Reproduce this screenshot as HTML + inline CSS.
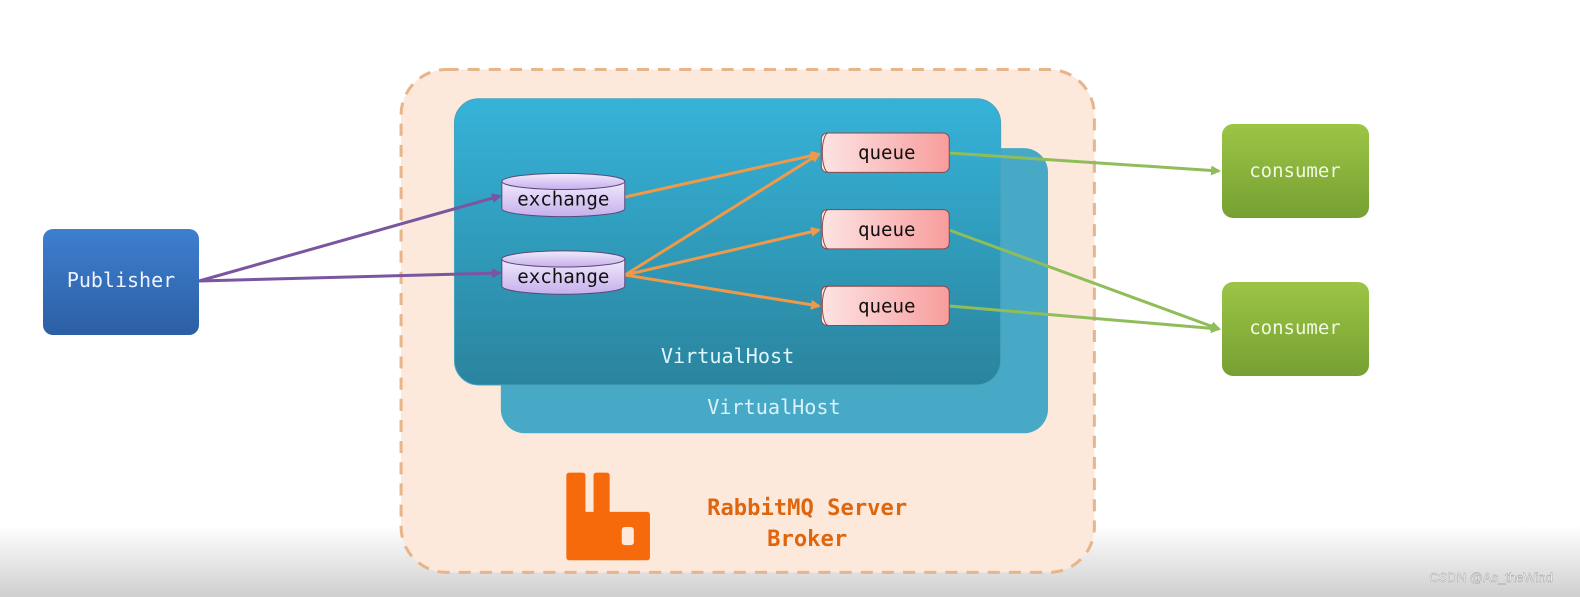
<!DOCTYPE html>
<html><head><meta charset="utf-8"><style>
html,body{margin:0;padding:0;width:1580px;height:597px;overflow:hidden;background:#fff}
text{font-family:"DejaVu Sans Mono","Liberation Mono",monospace}
</style></head><body>
<svg width="1580" height="597" viewBox="0 0 1580 597" xmlns="http://www.w3.org/2000/svg">
<defs>
<linearGradient id="bg" x1="0" y1="0" x2="0" y2="1"><stop offset="0.88" stop-color="#fff"/><stop offset="1" stop-color="#cfcfcf"/></linearGradient>
<linearGradient id="vh" x1="0" y1="0" x2="0" y2="1"><stop offset="0" stop-color="#36b3d9"/><stop offset="1" stop-color="#2a849e"/></linearGradient>
<linearGradient id="pub" x1="0" y1="0" x2="0" y2="1"><stop offset="0" stop-color="#3e7fd0"/><stop offset="1" stop-color="#2c5fa5"/></linearGradient>
<linearGradient id="con" x1="0" y1="0" x2="0" y2="1"><stop offset="0" stop-color="#9cc545"/><stop offset="1" stop-color="#76a032"/></linearGradient>
<linearGradient id="ex" x1="0" y1="0" x2="0" y2="1"><stop offset="0" stop-color="#f1eafc"/><stop offset="1" stop-color="#c6b0ec"/></linearGradient>
<linearGradient id="qu" x1="0" y1="0" x2="1" y2="0"><stop offset="0" stop-color="#fde4e4"/><stop offset="1" stop-color="#f89c9c"/></linearGradient>
<marker id="mp" markerWidth="10" markerHeight="10" refX="8" refY="5" orient="auto" markerUnits="userSpaceOnUse"><path d="M0,0 L10,5 L0,10z" fill="#7a55a0"/></marker>
<marker id="mo" markerWidth="10" markerHeight="10" refX="8" refY="5" orient="auto" markerUnits="userSpaceOnUse"><path d="M0,0 L10,5 L0,10z" fill="#ee9a48"/></marker>
<marker id="mg" markerWidth="10" markerHeight="10" refX="8" refY="5" orient="auto" markerUnits="userSpaceOnUse"><path d="M0,0 L10,5 L0,10z" fill="#8fbd5a"/></marker>
</defs>
<rect width="1580" height="597" fill="url(#bg)"/>
<g transform="scale(1.0077)">
<rect x="398" y="69" width="688" height="499" rx="45" fill="#fde9dc" stroke="#e8b48a" stroke-width="3" stroke-dasharray="12,9"/>
<rect x="497" y="147" width="543" height="283" rx="24" fill="#47a9c6"/>
<text x="768" y="411" font-size="20" fill="#d8f2fa" text-anchor="middle">VirtualHost</text>
<rect x="451" y="98" width="542" height="284" rx="24" fill="url(#vh)" stroke="#4aa3bb" stroke-width="1"/>
<text x="722" y="360" font-size="20" fill="#e0f6fd" text-anchor="middle">VirtualHost</text>
</g>
<rect x="43" y="229" width="156" height="106" rx="10" fill="url(#pub)"/>
<text x="121" y="287" font-size="20" fill="#eef4ff" text-anchor="middle">Publisher</text>
<rect x="1222" y="124" width="147" height="94" rx="11" fill="url(#con)"/>
<text x="1295" y="177" font-size="19" fill="#f2f8e2" text-anchor="middle">consumer</text>
<rect x="1222" y="282" width="147" height="94" rx="11" fill="url(#con)"/>
<text x="1295" y="334" font-size="19" fill="#f2f8e2" text-anchor="middle">consumer</text>
<g stroke-width="3" fill="none">
<line x1="199" y1="281" x2="500" y2="196" stroke="#7a55a0" marker-end="url(#mp)"/>
<line x1="199" y1="281" x2="500" y2="273" stroke="#7a55a0" marker-end="url(#mp)"/>
<line x1="625" y1="197" x2="819" y2="154" stroke="#ee9a48" marker-end="url(#mo)"/>
<line x1="625" y1="275" x2="819" y2="154" stroke="#ee9a48" marker-end="url(#mo)"/>
<line x1="625" y1="275" x2="819" y2="230" stroke="#ee9a48" marker-end="url(#mo)"/>
<line x1="625" y1="275" x2="819" y2="306" stroke="#ee9a48" marker-end="url(#mo)"/>
<line x1="949" y1="153" x2="1219" y2="171" stroke="#8fbd5a" marker-end="url(#mg)"/>
<line x1="949" y1="230" x2="1219" y2="329" stroke="#8fbd5a" marker-end="url(#mg)"/>
<line x1="949" y1="306" x2="1219" y2="329" stroke="#8fbd5a" marker-end="url(#mg)"/>
</g>
<g transform="scale(1.0077)">
<g stroke="#5a4a7a" stroke-width="1" fill="url(#ex)">
<path d="M498,180 v27 a61,8 0 0 0 122,0 v-27"/><ellipse cx="559" cy="180" rx="61" ry="8"/>
<path d="M498,257 v27 a61,8 0 0 0 122,0 v-27"/><ellipse cx="559" cy="257" rx="61" ry="8"/>
</g>
<text x="559" y="204" font-size="19" fill="#111" text-anchor="middle">exchange</text>
<text x="559" y="281" font-size="19" fill="#111" text-anchor="middle">exchange</text>
<g stroke="#8a4a4a" stroke-width="1">
<rect x="815" y="132" width="127" height="39" rx="6" fill="url(#qu)"/><path d="M822,132 a6,19.5 0 0 0 0,39" fill="none"/>
<rect x="815" y="208" width="127" height="39" rx="6" fill="url(#qu)"/><path d="M822,208 a6,19.5 0 0 0 0,39" fill="none"/>
<rect x="815" y="284" width="127" height="39" rx="6" fill="url(#qu)"/><path d="M822,284 a6,19.5 0 0 0 0,39" fill="none"/>
</g>
<text x="880" y="158" font-size="19" fill="#111" text-anchor="middle">queue</text>
<text x="880" y="234" font-size="19" fill="#111" text-anchor="middle">queue</text>
<text x="880" y="310" font-size="19" fill="#111" text-anchor="middle">queue</text>
<path d="M562,472 q0,-3 3,-3 h13 q3,0 3,3 v36 h8 v-36 q0,-3 3,-3 h10 q3,0 3,3 v36 h37 q3,0 3,3 v42 q0,3 -3,3 h-77 q-3,0 -3,-3z" fill="#f76a0c"/>
<rect x="617" y="523" width="12" height="18" rx="3" fill="#fde9dc"/>
<text x="801" y="511" font-size="22" font-weight="bold" fill="#e0660e" text-anchor="middle">RabbitMQ Server</text>
<text x="801" y="542" font-size="22" font-weight="bold" fill="#e0660e" text-anchor="middle">Broker</text>
</g>
<text x="1553" y="582" font-size="13" fill="#fff" stroke="#999" stroke-width="0.4" text-anchor="end" style="font-family:'Liberation Sans',sans-serif">CSDN @As_theWind</text>
</svg>
</body></html>
